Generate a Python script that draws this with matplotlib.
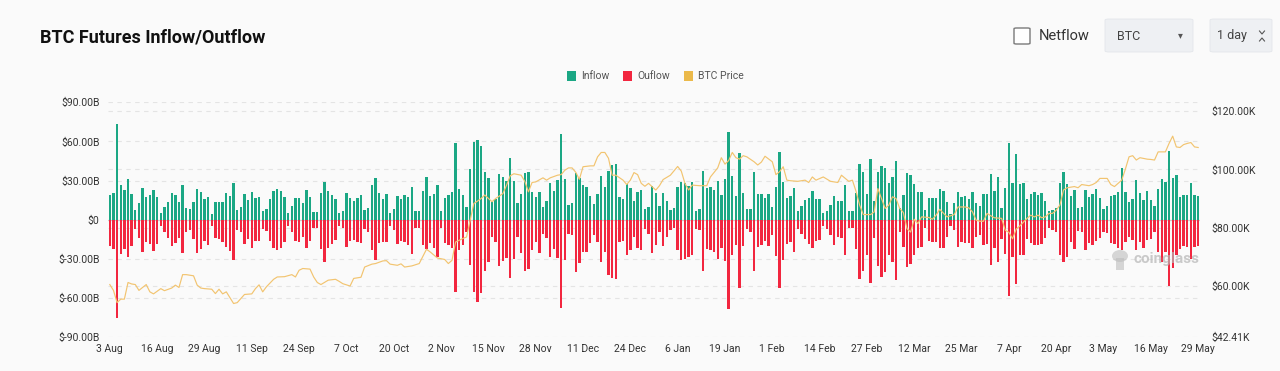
import matplotlib
matplotlib.use("Agg")
import matplotlib.pyplot as plt
from matplotlib.patches import Rectangle, FancyBboxPatch, Ellipse
from matplotlib.lines import Line2D
import numpy as np
import pandas as pd

# ---------------- data ----------------
start_date = "2024-08-03"
n_days = 300

inflow = [
    19.2, 20.8, 73, 27, 23, 31.5, 20, 7.4, 13, 24.6,
    17.7, 19, 22.8, 17.7, 5.4, 10, 14, 20.5, 19.2, 14,
    27, 9.2, 8.5, 14, 23.3, 21.3, 15.6, 17.4, 4.6, 13.8,
    13.6, 14, 20.3, 18.2, 28.5, 7.4, 9.5, 20, 14.9, 21.3,
    16.7, 17.7,
    6.7, 8.5, 15.6, 21.8, 23.3, 21.8, 17.4, 5.4, 10.3, 16.7,
    16.7, 12.8, 22.8, 17.4, 6.2, 5.9, 20.8, 29, 21.8, 19,
    16.2, 5.4, 6.7, 20.3, 16.7, 14.4, 16.4, 19, 7.7, 8.7,
    26.7, 31.8, 20.3, 15.9, 19.7, 4.9, 8.2, 18.5, 15.9, 19,
    17.2, 24.9,
    6.9, 6.9, 22.3, 32.6, 17.9, 19.7, 26.4, 6.4, 16.9, 18.7,
    21.3, 58.5, 23.3, 18.7, 9.7, 38.7, 59.7, 60.8, 56.7, 36.9,
    32, 13.3, 16, 35.1, 32.6, 30, 47.2, 30, 12.8, 19.7,
    35.6, 36.4, 21.3, 17.7, 21.5, 10, 14.6, 27.9, 22.3, 30.5,
    66, 31.5,
    11, 12.6, 35.9, 32.3, 26.7, 25.1, 18.2, 12.3, 19.7, 33.6,
    25.4, 37.7, 42, 43, 17.4, 15.9, 27.4, 24.4, 14.6, 21,
    22.6, 8.2, 9.7, 25.6, 20.8, 10.3, 20.8, 14.1, 7.7, 8.7,
    25.1, 29.2, 27.9, 25.6, 28.7, 6.7, 7.9, 37.7, 24.1, 25.1,
    23, 29.7,
    19.2, 31.3, 67.4, 33.8, 18.5, 51.3, 20.5, 7.9, 8.2, 36.4,
    20, 20, 16.7, 20, 9.7, 24.9, 51.8, 29.2, 16.7, 17.9,
    24.4, 6.9, 10.5, 14.9, 16.7, 22, 15.9, 15.9, 5.1, 6.4,
    11.5, 18.2, 14.1, 14.1, 26.7, 6.7, 6.7, 20.5, 42.8, 36.7,
    19.7, 46.7,
    14.1, 36.7, 41.3, 39.7, 27.9, 32.8, 45.4, 9, 19.2, 36.2,
    34.6, 27.4, 21.3, 21.3, 7.2, 16.4, 16.7, 16.7, 23.8, 22,
    13.6, 4.4, 12.8, 21, 17.4, 17.9, 16.2, 21.3, 12.6, 10.5,
    19.7, 19.7, 35.4, 22.3, 33.1, 9, 24.1, 58.7, 28.2, 50.5,
    27.4, 28.5,
    15.9, 20, 21, 19.2, 20.3, 14.6, 6.4, 7.7, 9, 28.2,
    36.7, 27.4, 18.5, 22.6, 8.7, 9.7, 22.6, 17.4, 19.7, 23.6,
    16.7, 8.5, 10.8, 17.9, 18.7, 21.3, 39.5, 21, 13.3, 15.6,
    30.3, 20.3, 15.4, 22, 15.1, 10.3, 23.3, 31.3, 29, 52.6,
    32, 34.6, 17.7, 19.2, 19, 28, 19.2, 18,
]

outflow = [
    -19.7, -22.6, -75, -26, -22.3, -28.2, -19.7, -7, -13.6, -24.4,
    -16.7, -18.2, -24, -18.2, -4.6, -9.7, -13.8, -19.7, -18, -13.6,
    -25.4, -9, -7.7, -14.6, -25.4, -22, -16, -19.5, -4.4, -14,
    -14.6, -16.7, -20.5, -23.8, -30.8, -7.7, -9.7, -18.2, -14.4, -21.8,
    -16, -16.2,
    -7, -8.5, -16.2, -21.3, -22.8, -21.3, -17, -4.6, -9.5, -16.2,
    -16.7, -12.8, -21.8, -16, -5.9, -5.9, -22.3, -32, -21.8, -18.2,
    -15.6, -4.6, -5.9, -20.5, -16, -15.1, -17, -18, -7, -9.5,
    -23.3, -31, -17.4, -16.7, -17.2, -4.6, -7.7, -18.7, -16.2, -16.7,
    -19.2, -26,
    -6.4, -6.4, -19.2, -22.3, -17.7, -21.3, -28.2, -6.4, -17.4, -19.2,
    -21.3, -55.6, -23, -19.2, -9.2, -35, -55, -62.8, -56.4, -39,
    -32, -13.3, -17.2, -35.4, -31.3, -29.5, -44.6, -30.3, -13.3, -25.4,
    -39, -38, -23.3, -17, -25.6, -10.8, -14.1, -28.5, -22.3, -29.2,
    -67.2, -30.8,
    -11, -12, -39.7, -32.8, -24.4, -24.6, -17.7, -11.8, -16.7, -32,
    -24.4, -42.3, -44.6, -45.1, -16.7, -16.4, -27, -23.3, -12.8, -21.8,
    -23, -6.9, -10.5, -25.4, -19.5, -9.5, -20, -13.3, -7.7, -6.4,
    -23.3, -31, -30.3, -28.5, -27.2, -6.9, -7.7, -39, -22.6, -23,
    -24.4, -30,
    -21.8, -31.5, -68.5, -27, -19.2, -52, -19.7, -7.4, -9, -39.2,
    -20.5, -19.5, -16, -20.3, -11.5, -27.4, -52, -30.5, -18.2, -17,
    -24.9, -6.9, -10.5, -14.6, -18.2, -21.8, -16, -15.6, -5.1, -6.9,
    -11.5, -19, -12.8, -13.6, -27, -5.9, -6.4, -22.6, -45.1, -39,
    -27, -48.2,
    -13.6, -35.1, -43.6, -40.3, -27, -32, -46.4, -9, -20.5, -36.2,
    -33.8, -27.2, -21.8, -20.8, -6.4, -16.2, -16.7, -16.7, -21.8, -21.8,
    -12.8, -4.4, -7.7, -20.5, -16.7, -18, -17.4, -21.8, -13.1, -11.5,
    -19, -18.7, -34.4, -21.8, -32.6, -14.6, -25.9, -58.5, -28.2, -49.2,
    -27.2, -27,
    -14.9, -18, -19.5, -19.2, -18.5, -13.6, -6.4, -7.7, -9, -27,
    -32, -28.5, -16.7, -22.3, -8.5, -9.5, -22.8, -18, -19.5, -16.2,
    -13.6, -9, -10.3, -17.4, -18.2, -21.3, -23, -16.7, -12.8, -15.6,
    -23, -16.7, -21.3, -15.4, -14.6, -9, -24.4, -32.6, -24.4, -50.5,
    -37.2, -27, -22.3, -19.7, -20.5, -30, -20.5, -20,
]

# day number (1 = 3 Aug) and BTC price in $K
price_day_no = [
    1, 2, 3, 4, 5, 6, 7, 8, 9, 11, 12, 13, 15, 16, 18, 19, 20, 21, 22, 24,
    25, 26, 27, 29, 30, 31, 32, 33, 35, 36, 38, 40, 41, 42, 43, 44, 46, 47, 49, 51,
    52, 53, 54, 56, 57, 58, 59, 61, 63, 64, 65, 67, 68, 70, 71, 73, 74, 76, 77, 78,
    80, 81, 82, 84, 86, 88, 89, 91, 93, 94, 95, 96, 98, 99, 100, 101, 102, 103, 104, 106,
    107, 109, 110, 111, 112, 114, 115, 116, 117, 118, 120, 121, 122, 124, 125, 126, 127, 128, 129, 130,
    131, 133, 134, 135, 136, 137, 138, 139, 140, 142, 143, 144, 145, 146, 147, 148, 149, 151, 152, 153,
    155, 157, 158, 159, 160, 161, 163, 165, 166, 168, 169, 170, 171, 172, 173, 174, 175, 176, 178, 179,
    180, 181, 183, 184, 185, 186, 187, 188, 190, 192, 193, 194, 195, 197, 199, 201, 202, 204, 205, 206,
    207, 208, 210, 211, 212, 213, 214, 215, 216, 217, 218, 219, 220, 221, 222, 223, 224, 226, 227, 228,
    229, 231, 232, 233, 234, 236, 237, 238, 239, 240, 241, 242, 243, 244, 246, 247, 248, 249, 250, 251,
    253, 254, 255, 256, 257, 258, 259, 260, 261, 262, 263, 264, 266, 267, 268, 270, 271, 272, 273, 275,
    276, 277, 279, 280, 281, 282, 283, 284, 286, 287, 288, 289, 291, 292, 293, 294, 295, 296, 297, 298,
    299, 300,
]
price_k = [
    60.5, 58.5, 54.3, 55.5, 55.5, 61.2, 60.7, 60.5, 58.5, 60.5, 58.0, 57.3, 59.1, 58.4, 59.3, 60.3, 59.5, 63.9, 63.9, 63.5,
    60.3, 59.3, 59.1, 58.9, 57.4, 58.9, 57.3, 58.0, 54.0, 54.3, 57.1, 57.3, 59.1, 60.4, 58.0, 59.7, 62.3, 63.1, 63.2, 63.9,
    63.1, 65.4, 66.0, 65.8, 63.1, 61.2, 60.5, 62.0, 62.3, 61.6, 60.8, 60.0, 62.6, 63.0, 66.5, 67.5, 67.7, 68.6, 68.7, 67.5,
    67.1, 67.6, 66.5, 66.9, 67.7, 72.6, 71.7, 69.6, 69.1, 67.7, 68.8, 75.1, 76.3, 76.8, 82.6, 88.3, 89.1, 90.0, 91.2, 88.9,
    90.0, 91.7, 94.6, 97.8, 98.5, 98.0, 95.9, 92.3, 95.5, 95.7, 97.1, 96.3, 97.1, 98.0, 98.2, 99.7, 100.5, 100.5, 99.0, 96.6,
    100.9, 101.2, 101.2, 104.3, 105.8, 105.8, 103.8, 98.0, 98.0, 96.3, 94.8, 96.3, 98.9, 98.2, 95.2, 94.2, 95.2, 92.9, 94.4, 96.5,
    98.0, 101.0, 99.4, 95.2, 92.9, 94.6, 94.4, 94.4, 97.4, 100.5, 104.0, 101.8, 103.0, 105.8, 104.0, 103.5, 104.7, 104.3, 102.6, 101.5,
    102.5, 104.5, 102.6, 98.2, 99.2, 100.9, 96.3, 96.1, 95.9, 96.3, 95.5, 97.4, 96.3, 97.4, 95.9, 95.5, 98.0, 95.9, 96.3, 92.5,
    87.7, 84.5, 84.5, 85.4, 93.4, 90.0, 86.6, 87.7, 90.6, 90.0, 86.6, 85.2, 79.7, 78.5, 82.9, 81.4, 83.7, 83.5, 82.9, 84.3,
    86.3, 83.7, 84.1, 84.5, 87.1, 87.1, 86.8, 85.4, 82.6, 82.2, 82.2, 84.9, 84.1, 83.4, 83.2, 79.1, 78.4, 76.2, 79.5, 80.6,
    83.2, 84.3, 83.7, 84.3, 83.4, 83.7, 84.9, 84.9, 86.0, 87.7, 92.9, 93.7, 94.1, 93.7, 94.8, 94.4, 94.8, 95.5, 96.9, 96.9,
    94.8, 94.1, 96.3, 100.1, 104.3, 104.7, 103.2, 104.0, 103.5, 103.4, 103.2, 106.0, 106.0, 108.9, 111.4, 107.7, 107.5, 108.5, 108.9, 109.2,
    107.7, 107.5,
]

left_ticks = [-90, -60, -30, 0, 30, 60, 90]
right_ticks = [42.41, 60, 80, 100, 120]
right_max = 123.0
label_every = 13

title = "BTC Futures Inflow/Outflow"
legend_labels = ["Inflow", "Ouflow", "BTC Price"]

# ---------------- style ----------------
GREEN = "#1ba784"
RED = "#f2263f"
GOLD = "#f2c470"
GOLD_LEG = "#ebb94a"
BG = "#fafafa"
GRID = "#e4e4e4"
FONT = "Roboto"

W, H = 1280, 371
fig = plt.figure(figsize=(W / 100, H / 100), dpi=100, facecolor=BG)


def fx(px):
    return px / W


def fy(py):
    return 1 - py / H


dates = pd.date_range(start_date, periods=n_days, freq="D")
x = np.arange(n_days)

ax_l, ax_r, ax_t, ax_b = 108, 1200, 102.3, 337.3
ax = fig.add_axes([fx(ax_l), fy(ax_b), fx(ax_r - ax_l), (ax_b - ax_t) / H])
ax.set_facecolor(BG)
ax.set_xlim(-0.5, n_days - 0.5)
ax.set_ylim(left_ticks[0], left_ticks[-1])

ax2 = ax.twinx()
ax2.set_ylim(right_ticks[0], right_max)

# grid lines of both axes, drawn behind the bars
grid_levels = [v for v in left_ticks if v != 0]
for v in right_ticks[1:]:
    frac = (v - right_ticks[0]) / (right_max - right_ticks[0])
    grid_levels.append(left_ticks[0] + frac * (left_ticks[-1] - left_ticks[0]))
for v in grid_levels:
    ax.axhline(v, color=GRID, lw=0.8, ls=(0, (4, 4)), zorder=1)
ax.axhline(0, color="#cccccc", lw=0.9, zorder=1.5)

ax.bar(x, inflow, width=0.64, color=GREEN, zorder=2, linewidth=0)
ax.bar(x, outflow, width=0.64, color=RED, zorder=2, linewidth=0)
ax.set_yticks(left_ticks)


def fmt_b(v):
    if v == 0:
        return "$0"
    return f"${v:.2f}B"


ax.set_yticklabels([fmt_b(v) for v in left_ticks], fontsize=7.5, color="#333333", fontfamily=FONT)
tick_idx = list(range(0, n_days, label_every))
ax.set_xticks(tick_idx)
ax.set_xticklabels([f"{dates[i].day} {dates[i].strftime('%b')}" for i in tick_idx],
                   fontsize=7.5, color="#333333", fontfamily=FONT)
ax.tick_params(axis="both", length=0)
ax.tick_params(axis="y", pad=6)
ax.tick_params(axis="x", pad=5)
for s in ax.spines.values():
    s.set_visible(False)

ax2.set_yticks(right_ticks)
ax2.set_yticklabels([f"${v:.2f}K" for v in right_ticks], fontsize=7.5, color="#333333", fontfamily=FONT)
ax2.tick_params(axis="y", length=0, pad=8)
for s in ax2.spines.values():
    s.set_visible(False)
ax2.plot(np.array(price_day_no) - 1, price_k, color=GOLD, lw=0.85, zorder=3, solid_joinstyle="round")

# ---------------- title & controls ----------------
fig.text(fx(40), fy(37), title, fontsize=13, fontweight="bold", color="#111111",
         fontfamily=FONT, ha="left", va="center")

# checkbox
fig.patches.append(FancyBboxPatch((fx(1014), fy(44)), fx(16), 16 / H,
                                  boxstyle="round,pad=0,rounding_size=0.002",
                                  transform=fig.transFigure, facecolor="white",
                                  edgecolor="#7a7a7a", linewidth=1.0))
fig.text(fx(1039), fy(36), "Netflow", fontsize=10.5, color="#333333", fontfamily=FONT,
         ha="left", va="center")
# BTC select
fig.patches.append(FancyBboxPatch((fx(1105), fy(52)), fx(88), 33 / H,
                                  boxstyle="round,pad=0,rounding_size=0.003",
                                  transform=fig.transFigure, facecolor="#eef0f3",
                                  edgecolor="#e3e6ea", linewidth=0.6))
fig.text(fx(1117), fy(36), "BTC", fontsize=9, color="#444444", fontfamily=FONT,
         ha="left", va="center")
fig.text(fx(1180), fy(35), "\u25BE", fontsize=7, color="#555555", fontfamily="DejaVu Sans",
         ha="center", va="center")
# 1 day select
fig.patches.append(FancyBboxPatch((fx(1210), fy(52)), fx(62), 33 / H,
                                  boxstyle="round,pad=0,rounding_size=0.003",
                                  transform=fig.transFigure, facecolor="#eef0f3",
                                  edgecolor="#e3e6ea", linewidth=0.6))
fig.text(fx(1217), fy(36), "1 day", fontsize=9, color="#444444", fontfamily=FONT,
         ha="left", va="center")
for (yy, d) in [(32.5, -1), (39.5, 1)]:
    fig.lines.append(Line2D([fx(1259.5), fx(1262), fx(1264.5)],
                            [fy(yy + 1.5 * d), fy(yy - 1.5 * d), fy(yy + 1.5 * d)],
                            transform=fig.transFigure, color="#555555", lw=0.8))

# ---------------- legend ----------------
leg_items = [(567, GREEN, legend_labels[0]), (623, RED, legend_labels[1]), (684, GOLD_LEG, legend_labels[2])]
for px, col, lab in leg_items:
    fig.patches.append(Rectangle((fx(px), fy(81)), fx(9), 10 / H, transform=fig.transFigure,
                                 facecolor=col, edgecolor="none"))
    fig.text(fx(px + 14), fy(76), lab, fontsize=7.5, color="#555555", fontfamily=FONT,
             ha="left", va="center")

# ---------------- watermark ----------------
fig.text(fx(1134), fy(259), "coinglass", fontsize=11, fontweight="bold", color="#b5b5b5",
         alpha=0.7, fontfamily=FONT, ha="left", va="center")
fig.patches.append(Ellipse((fx(1120), fy(256)), fx(16), 12 / H, transform=fig.transFigure,
                           facecolor="#bdbdbd", edgecolor="none", alpha=0.6))
fig.patches.append(Rectangle((fx(1116), fy(270)), fx(8), 12 / H, transform=fig.transFigure,
                             facecolor="#bdbdbd", edgecolor="none", alpha=0.6))

fig.savefig("out.png", dpi=100, facecolor=BG)
